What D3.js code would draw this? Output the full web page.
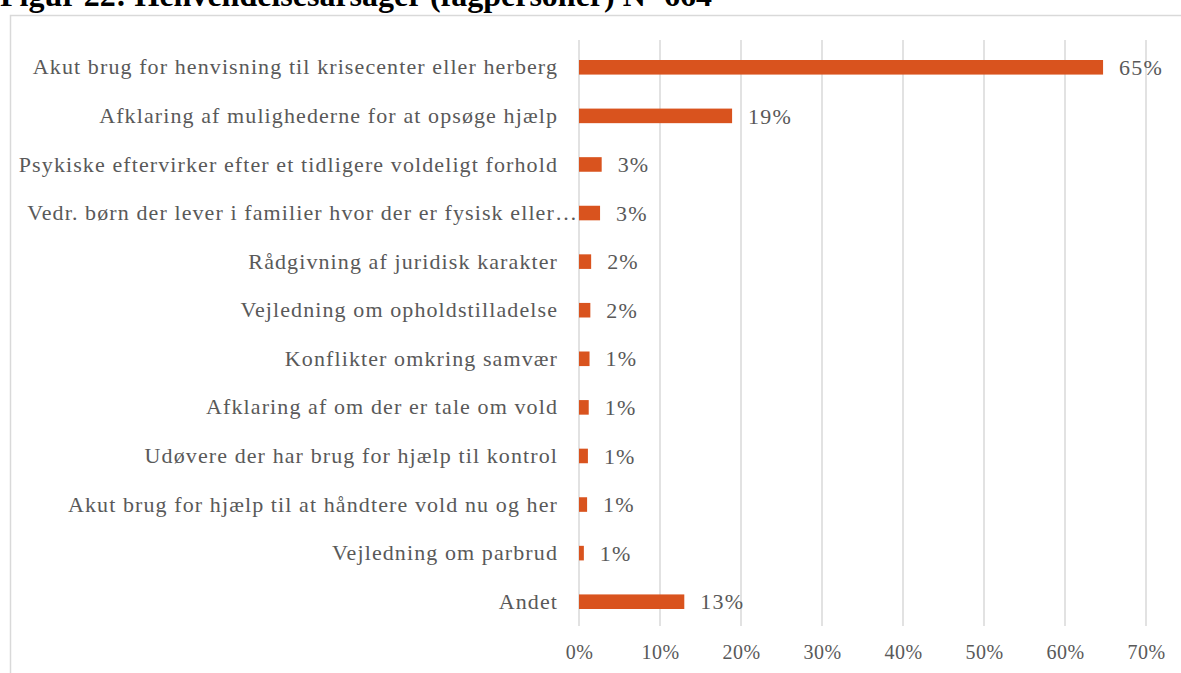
<!DOCTYPE html>
<html>
<head>
<meta charset="utf-8">
<script src="https://cdn.jsdelivr.net/npm/d3@7"></script>
<style>
  body { margin: 0; background: #fff; }
  svg { display: block; }
</style>
</head>
<body>
<div id="chart"></div>
<script>
const svgWidth = 1181;
const svgHeight = 673;

const categories = [
  "Akut brug for henvisning til krisecenter eller herberg",
  "Afklaring af mulighederne for at opsøge hjælp",
  "Psykiske eftervirker efter et tidligere voldeligt forhold",
  "Vedr. børn der lever i familier hvor der er fysisk eller…",
  "Rådgivning af juridisk karakter",
  "Vejledning om opholdstilladelse",
  "Konflikter omkring samvær",
  "Afklaring af om der er tale om vold",
  "Udøvere der har brug for hjælp til kontrol",
  "Akut brug for hjælp til at håndtere vold nu og her",
  "Vejledning om parbrud",
  "Andet"
];
const values = [64.7, 18.9, 2.8, 2.6, 1.5, 1.4, 1.3, 1.2, 1.1, 1.0, 0.6, 13.0];
const valueLabels = ["65%", "19%", "3%", "3%", "2%", "2%", "1%", "1%", "1%", "1%", "1%", "13%"];
const ticks = [0, 10, 20, 30, 40, 50, 60, 70];
const title = "Figur 22: Henvendelsesårsager (fagpersoner) N=664";

const font = "'Liberation Serif', 'DejaVu Serif', serif";
const grey = "#595959";
const barColor = "#d9531e";

let svg = d3.select("#chart").append("svg").attr("width", svgWidth).attr("height", svgHeight);

// title, mostly cut off at the top
svg.append("text")
  .attr("x", 0).attr("y", 6)
  .attr("font-family", font).attr("font-weight", "bold").attr("font-size", 32)
  .attr("fill", "#000")
  .text(title);

// chart frame
svg.append("rect")
  .attr("x", 10.5).attr("y", 15.5)
  .attr("width", 1190).attr("height", 680)
  .attr("fill", "none").attr("stroke", "#d9d9d9").attr("stroke-width", 1.5);

let xlin = d3.scaleLinear().domain([0, 70]).range([579, 1146]);
let yband = d3.scaleBand().domain(categories).range([43, 626]).paddingInner(0.7).paddingOuter(0.35);

// gridlines
svg.append("g").selectAll("line")
  .data(ticks)
  .enter().append("line")
  .attr("x1", d => xlin(d)).attr("x2", d => xlin(d))
  .attr("y1", 40).attr("y2", 626)
  .attr("stroke", "#d9d9d9").attr("stroke-width", 1.5);

// x axis labels
let xAxis = svg.append("g")
  .attr("transform", "translate(0, 640)")
  .call(d3.axisBottom(xlin).tickValues(ticks).tickFormat(d => d + "%").tickSize(0).tickPadding(5));
xAxis.select(".domain").remove();
xAxis.selectAll("text")
  .attr("font-family", font).attr("font-size", 20).attr("letter-spacing", 0.5).attr("fill", grey);

// y axis labels
let yAxis = svg.append("g")
  .attr("transform", "translate(579, 0)")
  .call(d3.axisLeft(yband).tickSize(0).tickPadding(21));
yAxis.select(".domain").remove();
yAxis.selectAll("text")
  .attr("font-family", font).attr("font-size", 22).attr("letter-spacing", 1.1).attr("fill", grey);
// the truncated label runs right up to the bars
yAxis.selectAll("text").filter(d => d.endsWith("…")).attr("x", -1);

// bars
svg.append("g").selectAll("rect")
  .data(values)
  .enter().append("rect")
  .attr("x", xlin(0))
  .attr("y", (d, i) => yband(categories[i]))
  .attr("width", d => xlin(d) - xlin(0))
  .attr("height", yband.bandwidth())
  .attr("fill", barColor);

// value labels
svg.append("g").selectAll("text")
  .data(values)
  .enter().append("text")
  .attr("x", d => xlin(d) + 16)
  .attr("y", (d, i) => yband(categories[i]) + yband.bandwidth() / 2)
  .attr("dy", "0.35em")
  .attr("font-family", font).attr("font-size", 22).attr("letter-spacing", 1.2).attr("fill", grey)
  .text((d, i) => valueLabels[i]);
</script>
</body>
</html>
